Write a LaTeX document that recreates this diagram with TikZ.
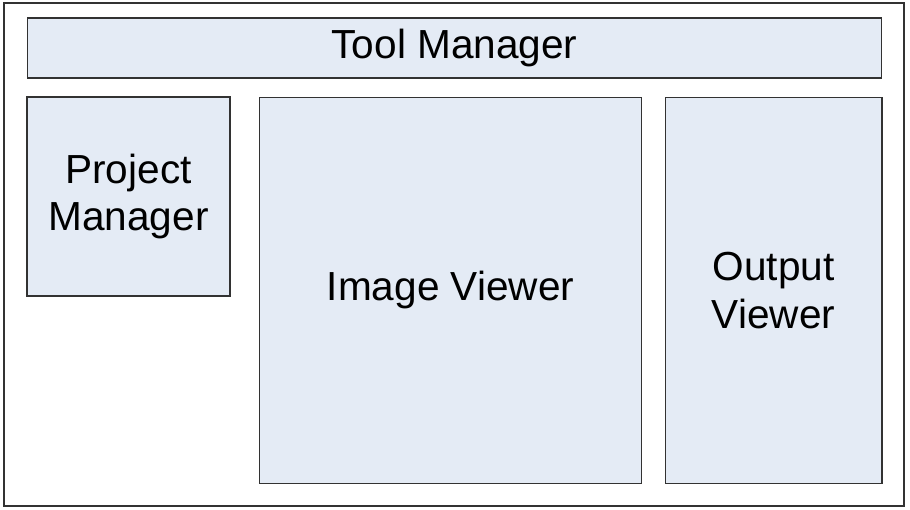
\documentclass[tikz,border=0pt]{standalone}
\usepackage{fontspec}
\setmainfont{Liberation Sans}
\usetikzlibrary{positioning}
\definecolor{panelblue}{RGB}{228,235,245}
\definecolor{edgegray}{RGB}{50,50,50}

\begin{document}
\begin{tikzpicture}[
    x=0.02cm, y=-0.02cm,
    panel/.style={rectangle, draw=edgegray, fill=panelblue, line width=0.6pt,
                  inner sep=0pt, align=center, font=\fontsize{23.1}{27}\selectfont},
    frame/.style={rectangle, draw=edgegray, line width=0.9pt, inner sep=0pt}
]
    \useasboundingbox (0,0) rectangle (910,510);
    \node[frame, minimum width=18cm, minimum height=10.06cm] (win) at (454,254.5) {};
    \node[panel, minimum width=17.1cm, minimum height=1.2cm] (tool) at (454.5,48) {Tool Manager};
    \node[panel, minimum width=4.06cm, minimum height=3.98cm] (proj) at (128.5,196.5) {Project\\Manager};
    \node[panel, minimum width=7.66cm, minimum height=7.74cm] (img) at (450.5,290.5) {Image Viewer};
    \node[panel, minimum width=4.34cm, minimum height=7.74cm] (out) at (773.5,290.5) {Output\\Viewer};
\end{tikzpicture}
\end{document}
